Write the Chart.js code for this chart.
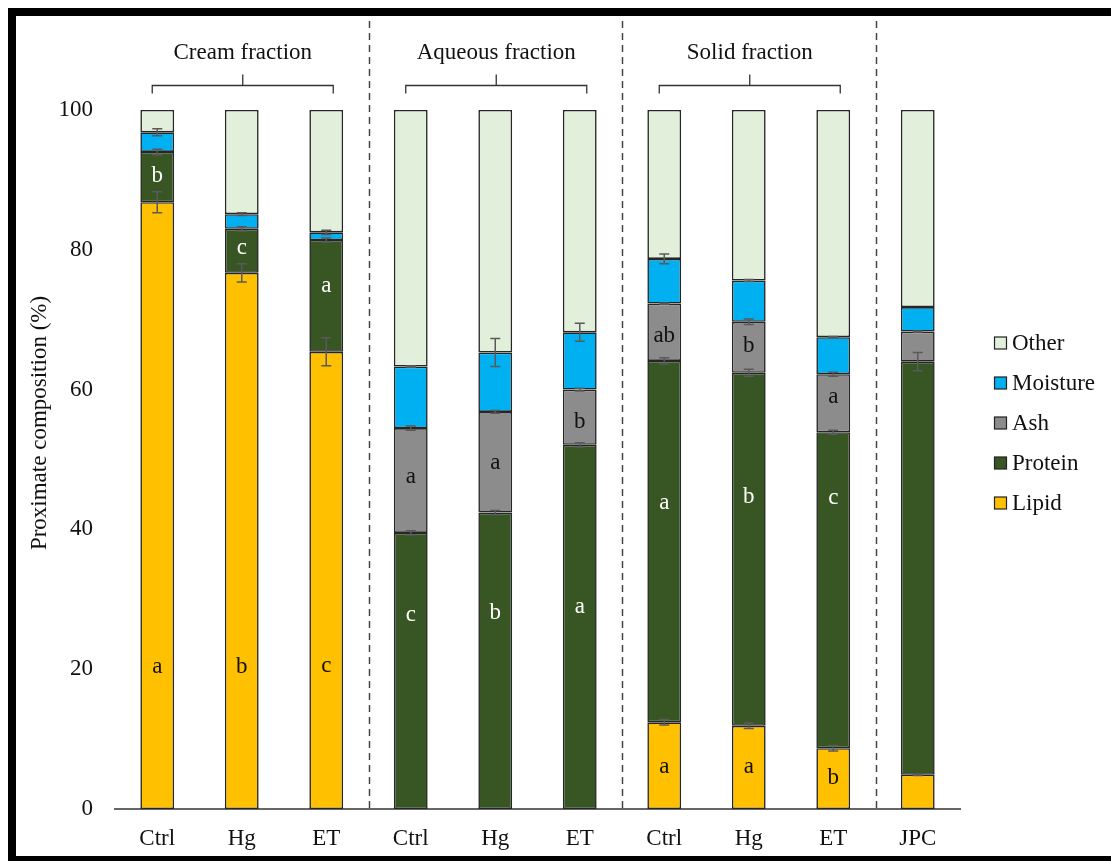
<!DOCTYPE html>
<html><head><meta charset="utf-8">
<script src="https://cdn.jsdelivr.net/npm/chart.js@4.4.1/dist/chart.umd.min.js"></script>
<style>html,body{margin:0;padding:0;background:#fff}canvas{display:block}</style>
</head><body>
<canvas id="c" width="1111" height="861"></canvas>
<script>
// ---- data ----
const categories = ['Ctrl','Hg','ET','Ctrl','Hg','ET','Ctrl','Hg','ET','JPC'];
const groupNames = ['Cream fraction','Aqueous fraction','Solid fraction'];
const groupFirst = [0,3,6];
const groupLast = [2,5,8];
const separatorsAfter = [2,5,8];
const yTickValues = [0,20,40,60,80,100];
const yTitle = 'Proximate composition (%)';
const seriesNames = ['Lipid','Protein','Ash','Moisture','Other'];

const lipid    = [86.8,76.7,65.4,0,0,0,12.4,11.9,8.7,4.9];
const protein  = [7.2,6.3,16.0,39.5,42.4,52.1,51.7,50.5,45.2,59.1];
const ash      = [0,0,0,15.0,14.4,7.9,8.2,7.3,8.3,4.3];
const moisture = [2.8,2.1,1.1,8.8,8.5,8.2,6.4,5.9,5.3,3.5];
const other    = [3.2,14.9,17.5,36.7,34.7,31.8,21.3,24.4,32.5,28.2];

const lipidErr    = [1.5,1.3,2.0,0,0,0,0.4,0.4,0.4,0.1];
const proteinErr  = [0.4,0.3,0.3,0.3,0.3,0.3,0.45,0.5,0.3,1.3];
const ashErr      = [0,0,0,0.3,0.2,0.2,0.1,0.4,0.3,0.1];
const moistureErr = [0.5,0.2,0.3,0.1,2.0,1.3,0.7,0.15,0.1,0];
const otherErr    = [0,0,0,0,0,0,0,0,0,0];

const lipidLetters   = ['a','b','c','','','','a','a','b',''];
const lipidLetterY   = [20.3,20.3,20.5,0,0,0,6.0,6.0,4.4,0];
const proteinLetters = ['b','c','a','c','b','a','a','b','c',''];
const proteinLetterY = [90.5,80.2,74.8,27.8,28.1,28.9,43.8,44.7,44.5,0];
const ashLetters     = ['','','','a','a','b','ab','b','a',''];
const ashLetterY     = [0,0,0,47.5,49.5,55.4,67.7,66.3,58.9,0];

// ---- styles ----
const FONT = 'Liberation Serif';
const FS = 23;
const colors = ['#FFC000','#375623','#8C8C8C','#00B0F0','#E2EFDA'];
const TEXT = '#111111';

const seriesValues = [lipid, protein, ash, moisture, other];
const seriesErrors = [lipidErr, proteinErr, ashErr, moistureErr, otherErr];
const seriesLetters = [
  {t: lipidLetters, y: lipidLetterY, c: TEXT},
  {t: proteinLetters, y: proteinLetterY, c: '#FFFFFF'},
  {t: ashLetters, y: ashLetterY, c: TEXT}
];

const deco = {
  id: 'deco',
  beforeDraw(chart) {
    const ctx = chart.ctx;
    ctx.save();
    ctx.fillStyle = '#fff';
    ctx.fillRect(0, 0, chart.width, chart.height);
    ctx.restore();
  },
  afterDatasetsDraw(chart) {
    const ctx = chart.ctx;
    const ys = chart.scales.y;
    ctx.save();
    ctx.strokeStyle = '#5a5a5a';
    ctx.lineWidth = 1.5;
    for (let d = 0; d < seriesValues.length; d++) {
      const meta = chart.getDatasetMeta(d);
      for (let i = 0; i < categories.length; i++) {
        const e = seriesErrors[d][i];
        if (!e) continue;
        let top = 0;
        for (let k = 0; k <= d; k++) top += seriesValues[k][i];
        const x = meta.data[i].x;
        const y1 = ys.getPixelForValue(top + e);
        const y2 = ys.getPixelForValue(top - e);
        ctx.beginPath();
        ctx.moveTo(x, y1); ctx.lineTo(x, y2);
        ctx.moveTo(x - 5, y1); ctx.lineTo(x + 5, y1);
        ctx.moveTo(x - 5, y2); ctx.lineTo(x + 5, y2);
        ctx.stroke();
      }
    }
    ctx.font = FS + 'px "' + FONT + '"';
    ctx.textAlign = 'center';
    ctx.textBaseline = 'middle';
    seriesLetters.forEach((s, d) => {
      const meta = chart.getDatasetMeta(d);
      ctx.fillStyle = s.c;
      s.t.forEach((t, i) => {
        if (!t) return;
        ctx.fillText(t, meta.data[i].x, ys.getPixelForValue(s.y[i]));
      });
    });
    ctx.restore();
  },
  afterDraw(chart) {
    const ctx = chart.ctx;
    const xs = chart.scales.x;
    const area = chart.chartArea;
    ctx.save();
    ctx.fillStyle = '#000';
    ctx.fillRect(8, 8, chart.width, 8);
    ctx.fillRect(8, 8, 8, chart.height);
    ctx.fillRect(8, 856, chart.width, 8);
    ctx.strokeStyle = '#444';
    ctx.lineWidth = 1.5;
    ctx.setLineDash([7, 5]);
    separatorsAfter.forEach(i => {
      const x = Math.round((xs.getPixelForValue(i) + xs.getPixelForValue(i + 1)) / 2) + 0.5;
      ctx.beginPath();
      ctx.moveTo(x, 21); ctx.lineTo(x, area.bottom);
      ctx.stroke();
    });
    ctx.setLineDash([]);
    ctx.strokeStyle = '#333';
    ctx.lineWidth = 1.3;
    ctx.fillStyle = TEXT;
    ctx.font = FS + 'px "' + FONT + '"';
    ctx.textAlign = 'center';
    ctx.textBaseline = 'alphabetic';
    groupNames.forEach((g, k) => {
      const x1 = xs.getPixelForValue(groupFirst[k]) - 5;
      const x2 = xs.getPixelForValue(groupLast[k]) + 7;
      const xm = (x1 + x2) / 2;
      const yb = 85.5;
      ctx.beginPath();
      ctx.moveTo(x1, yb + 8); ctx.lineTo(x1, yb); ctx.lineTo(x2, yb); ctx.lineTo(x2, yb + 8);
      ctx.moveTo(xm, yb); ctx.lineTo(xm, yb - 11);
      ctx.stroke();
      ctx.fillText(g, xm, 59);
    });
    ctx.save();
    ctx.translate(40, 423);
    ctx.rotate(-Math.PI / 2);
    ctx.textBaseline = 'middle';
    ctx.fillText(yTitle, 0, 0);
    ctx.restore();
    ctx.textAlign = 'left';
    ctx.textBaseline = 'middle';
    const order = [4, 3, 2, 1, 0];
    order.forEach((d, r) => {
      const cy = 343 + r * 40;
      ctx.fillStyle = colors[d];
      ctx.fillRect(994.5, cy - 6, 12, 12);
      ctx.strokeStyle = '#222';
      ctx.lineWidth = 1.2;
      ctx.strokeRect(994.5, cy - 6, 12, 12);
      ctx.fillStyle = TEXT;
      ctx.fillText(chart.data.datasets[d].label, 1012, cy + 1);
    });
    ctx.restore();
  }
};

const datasets = seriesNames.map((n, d) => ({
  label: n,
  data: seriesValues[d],
  backgroundColor: colors[d],
  borderColor: '#262626',
  borderWidth: 1.6,
  borderSkipped: false,
  categoryPercentage: 1.0,
  barPercentage: 0.4
}));

new Chart(document.getElementById('c'), {
  type: 'bar',
  data: { labels: categories, datasets },
  options: {
    responsive: false,
    animation: false,
    devicePixelRatio: 1,
    layout: { padding: { left: 0, right: 151, top: 110, bottom: 0 } },
    plugins: { legend: { display: false }, tooltip: { enabled: false } },
    scales: {
      x: {
        stacked: true,
        grid: { display: false, drawTicks: false },
        border: { display: true, color: '#666', width: 2 },
        ticks: { color: TEXT, font: { family: FONT, size: FS }, padding: 16, maxRotation: 0, autoSkip: false },
        afterFit(s) { s.height = 52; }
      },
      y: {
        stacked: true,
        min: 0, max: 100,
        grid: { display: false, drawTicks: false },
        border: { display: false },
        afterBuildTicks(s) { s.ticks = yTickValues.map(v => ({ value: v })); },
        ticks: { color: TEXT, font: { family: FONT, size: FS }, padding: 22 },
        afterFit(s) { s.width = 115; }
      }
    }
  },
  plugins: [deco]
});
</script>
</body></html>
